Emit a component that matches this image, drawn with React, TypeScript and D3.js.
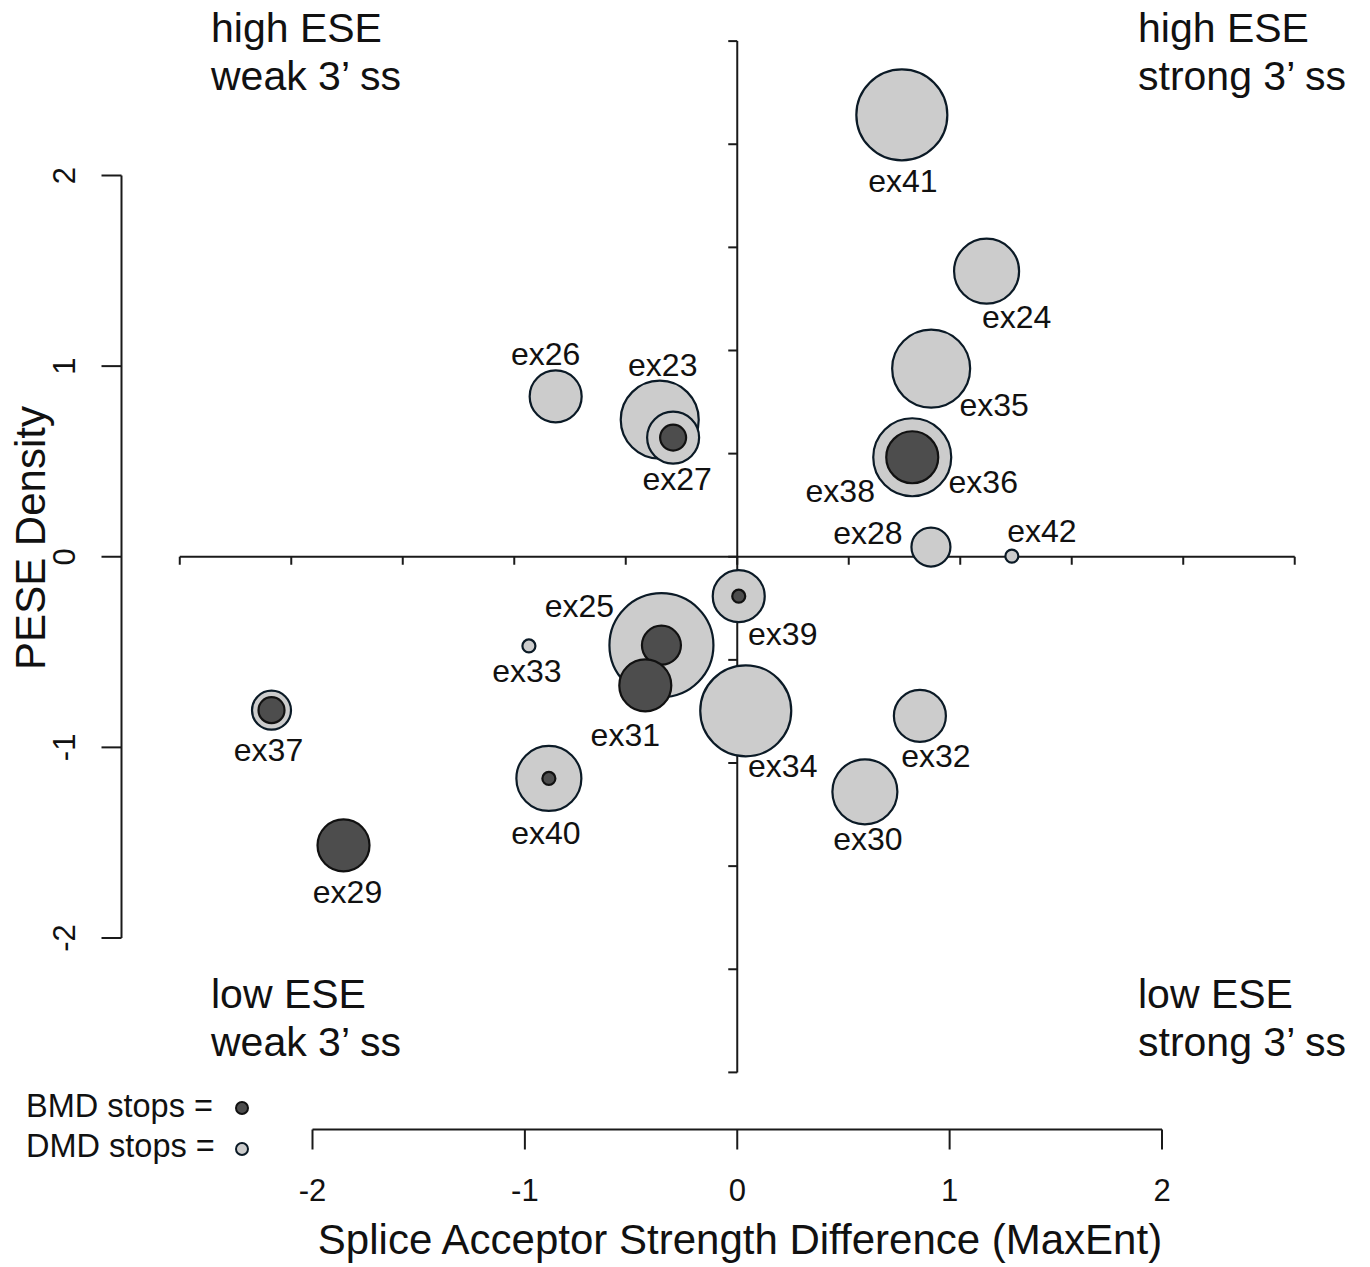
import React from "react";
import * as d3 from "d3";

// Exons with splice-acceptor strength difference (MaxEnt) and PESE density
const exons = [
  "ex23", "ex24", "ex25", "ex26", "ex27", "ex28", "ex29", "ex30", "ex31", "ex32",
  "ex33", "ex34", "ex35", "ex36", "ex37", "ex38", "ex39", "ex40", "ex41", "ex42",
];
const spliceDiff = [
  -0.365, 1.174, -0.357, -0.855, -0.302, 0.912, -1.854, 0.601, -0.433, 0.86,
  -0.981, 0.04, 0.913, 0.824, -2.193, 0.824, 0.007, -0.887, 0.775, 1.293,
];
const peseDensity = [
  0.719, 1.498, -0.464, 0.841, 0.625, 0.051, -1.514, -1.233, -0.675, -0.835,
  -0.468, -0.808, 0.987, 0.522, -0.805, 0.522, -0.207, -1.163, 2.318, 0.003,
];
// Number of nonsense mutations per exon
const dmdStops = [6, 5, 8, 4, 4, 3, 0, 5, 0, 4, 1, 7, 6, 6, 3, 0, 4, 5, 7, 1];
const bmdStops = [0, 0, 3, 0, 2, 0, 4, 0, 4, 0, 0, 0, 0, 0, 2, 4, 1, 1, 0, 0];

const xTicks = [-2, -1, 0, 1, 2];
const yTicks = [-2, -1, 0, 1, 2];
const hGuideTicks = [-2.625, -2.1, -1.575, -1.05, -0.525, 0, 0.525, 1.05, 1.575, 2.1, 2.625];
const vGuideTicks = [-2.705, -2.164, -1.623, -1.082, -0.541, 0, 0.541, 1.082, 1.623, 2.164, 2.705];

// Label placement relative to each bubble centre (px, to text baseline centre)
const labelOffset: Record<string, [number, number]> = {
  ex23: [3, -44], ex24: [30, 57], ex25: [-82, -28], ex26: [-10, -31], ex27: [4, 52],
  ex28: [-63, -3], ex29: [4, 58], ex30: [3, 58], ex31: [-20, 61], ex32: [16, 51],
  ex33: [-2, 36], ex34: [37, 66], ex35: [63, 47], ex36: [71, 36], ex37: [-3, 51],
  ex38: [-72, 45], ex39: [44, 49], ex40: [-3, 66], ex41: [1, 77], ex42: [30, -14],
};

const W = 1370;
const H = 1267;
const FONT = "'Liberation Sans', Arial, Helvetica, sans-serif";
const LIGHT = "#cccccc";
const DARK = "#4d4d4d";
const RIM = "#0b1a26";
const INK = "#1a1a1a";

export default function App() {
  const x = d3.scaleLinear().domain([-2, 2]).range([312.5, 1162]);
  const y = d3.scaleLinear().domain([-2, 2]).range([938, 175.5]);
  const r = d3.scaleLinear().domain([0, 8]).range([0, 52]);

  const rows = exons.map((name, i) => ({
    name,
    cx: x(spliceDiff[i]),
    cy: y(peseDensity[i]),
    dmd: dmdStops[i],
    bmd: bmdStops[i],
  }));

  const axisY = 1129.5;
  const axisX = 121.5;

  return (
    <svg
      width={W}
      height={H}
      viewBox={`0 0 ${W} ${H}`}
      style={{ position: "absolute", left: 0, top: 0, background: "#fff" }}
      fontFamily={FONT}
    >
      <rect width={W} height={H} fill="#fff" />

      {/* quadrant guide lines through the origin */}
      <g stroke={INK} strokeWidth={2} fill="none">
        <line x1={x(hGuideTicks[0])} x2={x(hGuideTicks[hGuideTicks.length - 1])} y1={y(0)} y2={y(0)} />
        {hGuideTicks.map((t) => (
          <line key={"h" + t} x1={x(t)} x2={x(t)} y1={y(0)} y2={y(0) + 8} />
        ))}
        <line x1={x(0)} x2={x(0)} y1={y(vGuideTicks[vGuideTicks.length - 1])} y2={y(vGuideTicks[0])} />
        {vGuideTicks.map((t) => (
          <line key={"v" + t} x1={x(0)} x2={x(0) - 9} y1={y(t)} y2={y(t)} />
        ))}
      </g>

      {/* bottom axis */}
      <g stroke={INK} strokeWidth={2} fill="none">
        <line x1={x(-2)} x2={x(2)} y1={axisY} y2={axisY} />
        {xTicks.map((t) => (
          <line key={t} x1={x(t)} x2={x(t)} y1={axisY} y2={axisY + 20} />
        ))}
      </g>
      {xTicks.map((t) => (
        <text key={t} x={x(t)} y={1201} fontSize={31} textAnchor="middle" fill="#111">
          {t}
        </text>
      ))}
      <text x={740} y={1254} fontSize={42} textAnchor="middle" fill="#111">
        Splice Acceptor Strength Difference (MaxEnt)
      </text>

      {/* left axis */}
      <g stroke={INK} strokeWidth={2} fill="none">
        <line x1={axisX} x2={axisX} y1={y(2)} y2={y(-2)} />
        {yTicks.map((t) => (
          <line key={t} x1={axisX} x2={axisX - 20} y1={y(t)} y2={y(t)} />
        ))}
      </g>
      {yTicks.map((t) => (
        <text
          key={t}
          transform={`translate(75,${y(t)}) rotate(-90)`}
          fontSize={31}
          textAnchor="middle"
          fill="#111"
        >
          {t}
        </text>
      ))}
      <text transform="translate(45,538) rotate(-90)" fontSize={42} textAnchor="middle" fill="#111">
        PESE Density
      </text>

      {/* DMD stop bubbles */}
      {rows
        .filter((d) => d.dmd > 0)
        .map((d) => (
          <circle key={"d" + d.name} cx={d.cx} cy={d.cy} r={r(d.dmd)} fill={LIGHT} stroke={RIM} strokeWidth={2.2} />
        ))}
      {/* BMD stop bubbles */}
      {rows
        .filter((d) => d.bmd > 0)
        .map((d) => (
          <circle key={"b" + d.name} cx={d.cx} cy={d.cy} r={r(d.bmd)} fill={DARK} stroke="#111" strokeWidth={2.2} />
        ))}

      {/* exon labels */}
      {rows.map((d) => {
        const [dx, dy] = labelOffset[d.name];
        return (
          <text key={"l" + d.name} x={d.cx + dx} y={d.cy + dy} fontSize={32} textAnchor="middle" fill="#111">
            {d.name}
          </text>
        );
      })}

      {/* quadrant captions */}
      <g fontSize={41} fill="#111">
        <text x={211} y={42}>high ESE</text>
        <text x={211} y={90}>weak 3’ ss</text>
        <text x={1138} y={42}>high ESE</text>
        <text x={1138} y={90}>strong 3’ ss</text>
        <text x={211} y={1008}>low ESE</text>
        <text x={211} y={1056}>weak 3’ ss</text>
        <text x={1138} y={1008}>low ESE</text>
        <text x={1138} y={1056}>strong 3’ ss</text>
      </g>

      {/* legend */}
      <g fontSize={32.5} fill="#111">
        <text x={26} y={1117}>BMD stops =</text>
        <text x={26} y={1157}>DMD stops =</text>
      </g>
      <circle cx={242} cy={1108} r={6} fill={DARK} stroke="#111" strokeWidth={2} />
      <circle cx={242} cy={1149} r={6} fill={LIGHT} stroke={RIM} strokeWidth={2} />
    </svg>
  );
}
